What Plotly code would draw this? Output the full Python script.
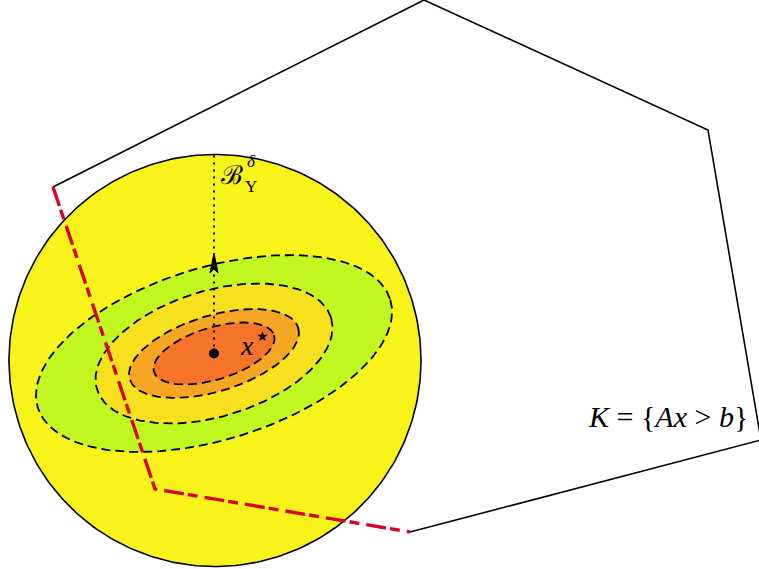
import numpy as np
import plotly.graph_objects as go

# ---- geometry (pixel coordinates, y downward) ----
poly_black_x = [53, 424, 708, 761, 410]
poly_black_y = [187, 0, 130, 440, 532]
poly_red_x = [53, 155, 410]
poly_red_y = [187, 489, 532]

circle_center = (215, 360.5)
circle_radius = 206

xstar = (214, 353.5)
ell_a = [184.3, 122.4, 88.1, 62.8]
ell_b = [86.2, 62.9, 37.9, 26.1]
ell_tilt_deg = [17, 17, 17, 17]
ell_colors = ["#c1f720", "#f7e11f", "#f5a623", "#f6742a"]

arrow_top_y = 155
arrow_head_x = [214, 218, 214, 210, 214]
arrow_head_y = [253, 273, 269, 273, 253]

W, H = 759, 569

fig = go.Figure()

def ellipse_pts(cx, cy, a, b, tdeg, n=200):
    t = np.linspace(0, 2 * np.pi, n)
    th = np.deg2rad(tdeg)
    x = cx + a * np.cos(t) * np.cos(th) + b * np.sin(t) * np.sin(th)
    y = cy - a * np.cos(t) * np.sin(th) + b * np.sin(t) * np.cos(th)
    return x, y

# circle
cx, cy = circle_center
cxs, cys = ellipse_pts(cx, cy, circle_radius, circle_radius, 0, 300)
fig.add_trace(go.Scatter(x=cxs, y=cys, mode="lines", fill="toself",
                         fillcolor="#f8f31b", line=dict(color="black", width=1.6),
                         hoverinfo="skip"))

# ellipse fills
for a, b, t, c in zip(ell_a, ell_b, ell_tilt_deg, ell_colors):
    ex, ey = ellipse_pts(xstar[0], xstar[1], a, b, t)
    fig.add_trace(go.Scatter(x=ex, y=ey, mode="lines", fill="toself",
                             fillcolor=c, line=dict(width=0), hoverinfo="skip"))

# dashed outlines
for a, b, t in zip(ell_a, ell_b, ell_tilt_deg):
    ex, ey = ellipse_pts(xstar[0], xstar[1], a, b, t)
    fig.add_trace(go.Scatter(x=ex, y=ey, mode="lines",
                             line=dict(color="black", width=1.8, dash="9px,5px"),
                             hoverinfo="skip"))

# polygon black part
fig.add_trace(go.Scatter(x=poly_black_x, y=poly_black_y, mode="lines",
                         line=dict(color="black", width=1.6), hoverinfo="skip"))
# red dash-dot part
fig.add_trace(go.Scatter(x=poly_red_x, y=poly_red_y, mode="lines",
                         line=dict(color="#d4062a", width=3.4, dash="20px,4px,10px,7px"),
                         hoverinfo="skip"))

# dotted vertical line
fig.add_trace(go.Scatter(x=[xstar[0], xstar[0]], y=[xstar[1], arrow_top_y], mode="lines",
                         line=dict(color="black", width=2, dash="2px,5px"),
                         hoverinfo="skip"))
# arrow head
fig.add_trace(go.Scatter(x=arrow_head_x, y=arrow_head_y, mode="lines", fill="toself",
                         fillcolor="black", line=dict(color="black", width=1),
                         hoverinfo="skip"))
# x* dot
fig.add_trace(go.Scatter(x=[xstar[0]], y=[xstar[1]], mode="markers",
                         marker=dict(color="black", size=10), hoverinfo="skip"))

serif = "Liberation Serif"
ann = [
    dict(x=247, y=345, text="<i>x</i>", size=28, fam=serif),
    dict(x=262, y=336, text="★", size=14, fam="DejaVu Sans"),
    dict(x=232, y=175, text="ℬ", size=26, fam=serif),
    dict(x=251, y=161, text="<i>δ</i>", size=17, fam=serif),
    dict(x=251, y=186, text="Υ", size=17, fam=serif),
    dict(x=668, y=416, text="<i>K</i> = {<i>Ax</i> &gt; <i>b</i>}", size=30, fam=serif),
]
for a in ann:
    fig.add_annotation(x=a["x"], y=a["y"], text=a["text"], showarrow=False,
                       xanchor="center", yanchor="middle", borderpad=0,
                       font=dict(family=a["fam"], size=a["size"], color="black"))

fig.update_layout(
    width=W, height=H, margin=dict(l=0, r=0, t=0, b=0),
    paper_bgcolor="white", plot_bgcolor="white", showlegend=False,
    xaxis=dict(range=[0, W], visible=False, fixedrange=True),
    yaxis=dict(range=[H, 0], visible=False, fixedrange=True),
)
fig.write_html("out.html", config={"displayModeBar": False},
               post_script="document.body.style.margin='0px';document.body.style.overflow='hidden';")
